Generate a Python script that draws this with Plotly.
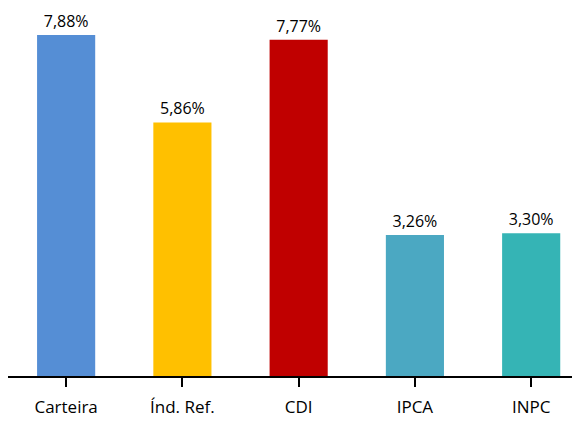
import plotly.graph_objects as go

categories = ["Carteira", "Índ. Ref.", "CDI", "IPCA", "INPC"]
values = [7.88, 5.86, 7.77, 3.26, 3.30]
colors = ["#558ED5", "#FFC000", "#C00000", "#4BA8C2", "#35B4B5"]

labels = [f"{v:.2f}%".replace(".", ",") for v in values]

fig = go.Figure(go.Bar(
    x=list(range(len(categories))),
    y=values,
    marker=dict(color=colors, line=dict(width=0)),
    width=0.5,
    text=labels,
    textposition="outside",
    textfont=dict(family="Open Sans", size=16, color="#000000"),
    cliponaxis=False,
))

fig.update_layout(
    width=572, height=413,
    margin=dict(l=0, r=0, t=2, b=45),
    plot_bgcolor="white", paper_bgcolor="white",
    showlegend=False,
    font=dict(family="Open Sans", size=16, color="#000000"),
)
fig.update_xaxes(
    tickmode="array", tickvals=list(range(len(categories))), ticktext=categories,
    range=[-0.5, 4.42],
    showline=True, linecolor="#000000", linewidth=2,
    ticks="outside", ticklen=9, tickwidth=2, tickcolor="#000000",
    ticklabelstandoff=6,
    showgrid=False, zeroline=False,
    tickfont=dict(family="Open Sans", size=17, color="#000000"),
)
fig.update_yaxes(
    range=[0, 8.46], visible=False, showgrid=False, zeroline=False,
)

fig.write_html("out.html")
